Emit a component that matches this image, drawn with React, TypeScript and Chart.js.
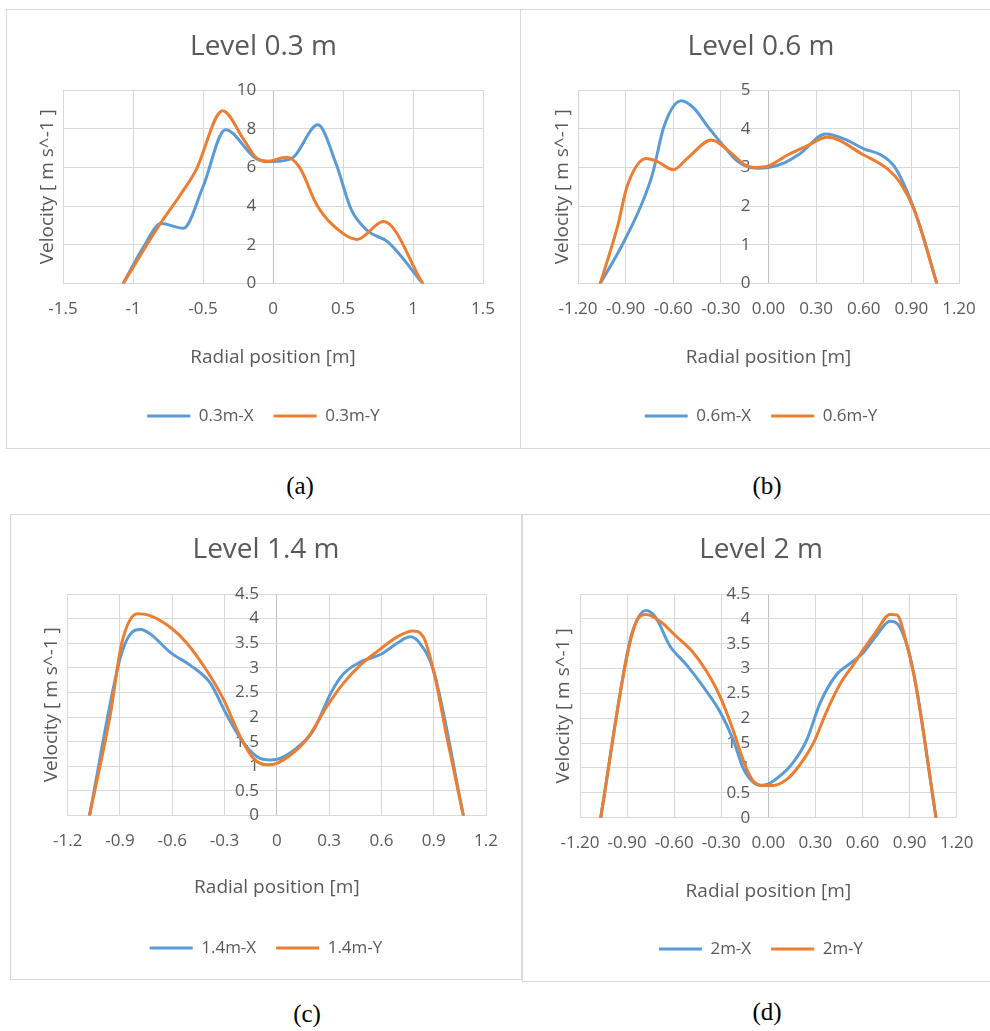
import React, { useEffect, useRef } from 'react';
import { Chart, registerables } from 'chart.js';

Chart.register(...registerables);

const FONT = "'Open Sans', 'Noto Sans', sans-serif";
const TEXT = '#595959';
const GRID = '#D9D9D9';
const AXIS0 = '#BFBFBF';
const BLUE = '#5B9BD5';
const ORANGE = '#ED7D31';

// ---------- Panel (a) Level 0.3 m ----------
const A_X_POS = [-1.07, -0.92, -0.8, -0.64, -0.5, -0.34, -0.12, 0, 0.14, 0.32, 0.45, 0.56, 0.68, 0.82, 1.07];
const A_X_VEL = [0, 1.95, 3.1, 2.85, 5.0, 7.95, 6.45, 6.3, 6.5, 8.2, 6.2, 3.8, 2.7, 2.15, 0];
const A_Y_POS = [-1.07, -0.8, -0.66, -0.55, -0.36, -0.21, -0.12, -0.05, 0.1, 0.19, 0.31, 0.43, 0.6, 0.79, 1.07];
const A_Y_VEL = [0, 3.15, 4.6, 5.86, 8.93, 7.45, 6.5, 6.3, 6.53, 6.0, 4.1, 3.0, 2.28, 3.2, 0];
const A_XTICKS = [-1.5, -1, -0.5, 0, 0.5, 1, 1.5];
const A_XLABELS = ['-1.5', '-1', '-0.5', '0', '0.5', '1', '1.5'];
const A_YTICKS = [0, 2, 4, 6, 8, 10];
const A_YLABELS = ['0', '2', '4', '6', '8', '10'];

// ---------- Panel (b) Level 0.6 m ----------
const B_X_POS = [-1.06, -0.93, -0.8, -0.73, -0.66, -0.55, -0.47, -0.38, -0.3, -0.195, -0.07, 0, 0.1, 0.2, 0.36, 0.48, 0.6, 0.71, 0.79, 0.875, 0.96, 1.06];
const B_X_VEL = [0, 0.93, 2.04, 2.84, 4.04, 4.72, 4.53, 4.04, 3.64, 3.16, 2.98, 3.0, 3.12, 3.36, 3.86, 3.73, 3.48, 3.32, 3.04, 2.36, 1.4, 0];
const B_Y_POS = [-1.06, -0.95, -0.89, -0.77, -0.7, -0.6, -0.51, -0.36, -0.26, -0.15, -0.09, 0, 0.12, 0.245, 0.37, 0.6, 0.75, 0.83, 0.92, 1.06];
const B_Y_VEL = [0, 1.49, 2.52, 3.23, 3.15, 2.94, 3.24, 3.71, 3.46, 3.07, 3.0, 3.04, 3.32, 3.56, 3.78, 3.32, 2.96, 2.6, 1.88, 0];
const B_XTICKS = [-1.2, -0.9, -0.6, -0.3, 0, 0.3, 0.6, 0.9, 1.2];
const B_XLABELS = ['-1.20', '-0.90', '-0.60', '-0.30', '0.00', '0.30', '0.60', '0.90', '1.20'];
const B_YTICKS = [0, 1, 2, 3, 4, 5];
const B_YLABELS = ['0', '1', '2', '3', '4', '5'];

// ---------- Panel (c) Level 1.4 m ----------
const C_X_POS = [-1.075, -0.9, -0.84, -0.78, -0.727, -0.61, -0.5, -0.38, -0.287, -0.19, -0.096, -0.038, 0, 0.096, 0.21, 0.31, 0.38, 0.48, 0.6, 0.69, 0.765, 0.82, 0.9, 1.07];
const C_X_VEL = [0, 3.18, 3.69, 3.78, 3.69, 3.31, 3.06, 2.68, 2.04, 1.47, 1.16, 1.13, 1.14, 1.32, 1.73, 2.49, 2.87, 3.12, 3.28, 3.5, 3.63, 3.5, 2.93, 0];
const C_Y_POS = [-1.075, -0.956, -0.89, -0.8, -0.736, -0.61, -0.516, -0.4, -0.306, -0.21, -0.134, -0.057, 0, 0.096, 0.17, 0.29, 0.38, 0.48, 0.59, 0.69, 0.78, 0.84, 0.9, 0.975, 1.07];
const C_Y_VEL = [0, 2.04, 3.5, 4.1, 4.07, 3.82, 3.5, 2.93, 2.36, 1.6, 1.16, 1.03, 1.06, 1.28, 1.54, 2.23, 2.68, 3.06, 3.37, 3.63, 3.75, 3.63, 2.93, 1.6, 0];
const C_XTICKS = [-1.2, -0.9, -0.6, -0.3, 0, 0.3, 0.6, 0.9, 1.2];
const C_XLABELS = ['-1.2', '-0.9', '-0.6', '-0.3', '0', '0.3', '0.6', '0.9', '1.2'];
const C_YTICKS = [0, 0.5, 1, 1.5, 2, 2.5, 3, 3.5, 4, 4.5];
const C_YLABELS = ['0', '0.5', '1', '1.5', '2', '2.5', '3', '3.5', '4', '4.5'];

// ---------- Panel (d) Level 2 m ----------
const D_X_POS = [-1.068, -0.924, -0.87, -0.78, -0.72, -0.626, -0.52, -0.414, -0.308, -0.223, -0.16, -0.096, -0.053, 0, 0.074, 0.16, 0.244, 0.33, 0.435, 0.52, 0.605, 0.69, 0.775, 0.84, 0.924, 1.068];
const D_X_VEL = [0, 2.88, 3.7, 4.17, 4.04, 3.45, 3.07, 2.63, 2.13, 1.56, 0.99, 0.71, 0.65, 0.68, 0.84, 1.12, 1.56, 2.31, 2.88, 3.1, 3.32, 3.67, 3.95, 3.82, 2.94, 0];
const D_Y_POS = [-1.068, -0.9, -0.83, -0.78, -0.69, -0.584, -0.478, -0.393, -0.308, -0.223, -0.149, -0.096, -0.032, 0.032, 0.117, 0.2, 0.287, 0.37, 0.457, 0.54, 0.605, 0.69, 0.775, 0.818, 0.88, 0.945, 1.068];
const D_Y_VEL = [0, 3.26, 4.01, 4.09, 3.95, 3.64, 3.32, 2.94, 2.44, 1.75, 1.06, 0.74, 0.65, 0.65, 0.77, 1.06, 1.5, 2.13, 2.69, 3.07, 3.38, 3.76, 4.09, 4.08, 3.51, 2.57, 0];
const D_XTICKS = B_XTICKS;
const D_XLABELS = B_XLABELS;
const D_YTICKS = C_YTICKS;
const D_YLABELS = C_YLABELS;

type Spec = {
  title: string;
  names: [string, string];
  xPos: number[]; xVel: number[]; yPos: number[]; yVel: number[];
  xTicks: number[]; xLabels: string[]; yTicks: number[]; yLabels: string[];
  box: { left: number; top: number; width: number; height: number };
  lay: { L: number; R: number; Tt: number; Tb: number; P: number; Xt: number; Xb: number; B: number; Yt: number; yOff: number };
};

const SPECS: Spec[] = [
  {
    title: 'Level 0.3 m', names: ['0.3m-X', '0.3m-Y'],
    xPos: A_X_POS, xVel: A_X_VEL, yPos: A_Y_POS, yVel: A_Y_VEL,
    xTicks: A_XTICKS, xLabels: A_XLABELS, yTicks: A_YTICKS, yLabels: A_YLABELS,
    box: { left: 6, top: 9, width: 515, height: 440 },
    lay: { L: 56, R: 37, Tt: 20.2, Tb: 26.2, P: 15.5, Xt: 11.7, Xb: 18.1, B: 13.5, Yt: 29.6, yOff: 0.12 },
  },
  {
    title: 'Level 0.6 m', names: ['0.6m-X', '0.6m-Y'],
    xPos: B_X_POS, xVel: B_X_VEL, yPos: B_Y_POS, yVel: B_Y_VEL,
    xTicks: B_XTICKS, xLabels: B_XLABELS, yTicks: B_YTICKS, yLabels: B_YLABELS,
    box: { left: 520, top: 9, width: 482, height: 440 },
    lay: { L: 57, R: 42, Tt: 20.2, Tb: 26.2, P: 15.5, Xt: 11.7, Xb: 18.1, B: 13.5, Yt: 30.6, yOff: 0.113 },
  },
  {
    title: 'Level 1.4 m', names: ['1.4m-X', '1.4m-Y'],
    xPos: C_X_POS, xVel: C_X_VEL, yPos: C_Y_POS, yVel: C_Y_VEL,
    xTicks: C_XTICKS, xLabels: C_XLABELS, yTicks: C_YTICKS, yLabels: C_YLABELS,
    box: { left: 10, top: 514, width: 512, height: 466 },
    lay: { L: 56.7, R: 35, Tt: 18.2, Tb: 27.2, P: 15.5, Xt: 9.7, Xb: 20.1, B: 12.5, Yt: 29.3, yOff: 0.103 },
  },
  {
    title: 'Level 2 m', names: ['2m-X', '2m-Y'],
    xPos: D_X_POS, xVel: D_X_VEL, yPos: D_Y_POS, yVel: D_Y_VEL,
    xTicks: D_XTICKS, xLabels: D_XLABELS, yTicks: D_YTICKS, yLabels: D_YLABELS,
    box: { left: 522, top: 514, width: 478, height: 468 },
    lay: { L: 57, R: 42.3, Tt: 18.2, Tb: 27.2, P: 15, Xt: 12.2, Xb: 17.4, B: 13.5, Yt: 28.9, yOff: 0.115 },
  },
];

const CAPTIONS = [
  { text: '(a)', cx: 300, cy: 486 },
  { text: '(b)', cx: 767, cy: 486 },
  { text: '(c)', cx: 307, cy: 1014 },
  { text: '(d)', cx: 767, cy: 1012 },
];

const toXY = (pos: number[], vel: number[]) => pos.map((p, i) => ({ x: p, y: vel[i] }));

function makeConfig(s: Spec): any {
  const l = s.lay;
  const lineDs = (label: string, data: any[], color: string, order: number) => ({
    label, data, borderColor: color, backgroundColor: color, borderWidth: 3,
    pointRadius: 0, pointHoverRadius: 0, cubicInterpolationMode: 'monotone',
    borderCapStyle: 'round', borderJoinStyle: 'round', fill: false, order,
  });
  return {
    type: 'line',
    data: {
      datasets: [
        lineDs(s.names[0], toXY(s.xPos, s.xVel), BLUE, 1),
        lineDs(s.names[1], toXY(s.yPos, s.yVel), ORANGE, 0),
      ],
    },
    options: {
      responsive: false,
      animation: false,
      devicePixelRatio: 1,
      events: [],
      layout: { padding: { top: 0, left: 0, right: 0, bottom: l.B } },
      plugins: {
        tooltip: { enabled: false },
        title: {
          display: true, text: s.title, color: TEXT,
          font: { family: FONT, size: 28, weight: 'normal' },
          padding: { top: l.Tt, bottom: l.Tb },
        },
        legend: {
          display: true, position: 'bottom',
          labels: {
            color: TEXT, font: { family: FONT, size: 17 }, boxWidth: 43, boxHeight: 3, padding: 20,
            generateLabels: (chart: any) => chart.data.datasets.map((ds: any, i: number) => ({
              text: ds.label, fillStyle: ds.borderColor, strokeStyle: ds.borderColor,
              lineWidth: 0, hidden: false, datasetIndex: i, fontColor: TEXT,
            })),
          },
        },
      },
      scales: {
        x: {
          type: 'linear', position: 'bottom',
          min: s.xTicks[0], max: s.xTicks[s.xTicks.length - 1],
          afterBuildTicks: (sc: any) => { sc.ticks = s.xTicks.map((v) => ({ value: v })); },
          ticks: {
            autoSkip: false, maxRotation: 0, minRotation: 0, padding: l.P, color: TEXT,
            font: { family: FONT, size: 17 },
            callback: (_v: any, i: number) => s.xLabels[i],
          },
          grid: {
            drawTicks: false, lineWidth: 1,
            color: (ctx: any) => (ctx.tick && ctx.tick.value === 0 ? AXIS0 : GRID),
          },
          border: { display: true, color: GRID },
          title: {
            display: true, text: 'Radial position [m]', color: TEXT,
            font: { family: FONT, size: 19 }, padding: { top: l.Xt, bottom: l.Xb },
          },
        },
        y: {
          type: 'linear', position: { x: -l.yOff },
          min: s.yTicks[0], max: s.yTicks[s.yTicks.length - 1],
          afterBuildTicks: (sc: any) => { sc.ticks = s.yTicks.map((v) => ({ value: v })); },
          ticks: {
            padding: 0, color: TEXT, font: { family: FONT, size: 17 },
            callback: (_v: any, i: number) => s.yLabels[i],
          },
          grid: { drawTicks: false, color: GRID, lineWidth: 1 },
          border: { display: false },
        },
        yT: {
          type: 'linear', position: 'left', min: 0, max: 1,
          ticks: { display: false }, grid: { display: false, drawTicks: false }, border: { display: false },
          title: {
            display: true, text: 'Velocity [ m s^-1 ]', color: TEXT,
            font: { family: FONT, size: 19 }, padding: { top: l.Yt, bottom: 0 },
          },
          afterFit: (sc: any) => { sc.width = l.L; },
        },
        yR: {
          type: 'linear', position: 'right', min: 0, max: 1,
          ticks: { display: false }, grid: { display: false, drawTicks: false }, border: { display: false },
          afterFit: (sc: any) => { sc.width = l.R; },
        },
      },
    },
  };
}

function Panel({ spec }: { spec: Spec }) {
  const ref = useRef<HTMLCanvasElement | null>(null);
  useEffect(() => {
    if (!ref.current) return;
    const chart = new Chart(ref.current, makeConfig(spec));
    return () => chart.destroy();
  }, [spec]);
  const b = spec.box;
  return (
    <div
      style={{
        position: 'absolute', left: b.left, top: b.top, width: b.width, height: b.height,
        border: '1px solid #D9D9D9', boxSizing: 'border-box', background: '#fff',
      }}
    >
      <canvas
        ref={ref}
        width={b.width - 2}
        height={b.height - 2}
        style={{ display: 'block', width: b.width - 2, height: b.height - 2 }}
      />
    </div>
  );
}

export default function App() {
  return (
    <div
      style={{
        position: 'absolute', left: 0, top: 0, width: 990, height: 1031,
        overflow: 'hidden', background: '#fff',
      }}
    >
      {SPECS.map((s) => (
        <Panel key={s.title} spec={s} />
      ))}
      {CAPTIONS.map((c) => (
        <div
          key={c.text}
          style={{
            position: 'absolute', left: c.cx - 40, top: c.cy - 13, width: 80, textAlign: 'center',
            fontFamily: "'Liberation Serif', 'Times New Roman', serif", fontSize: 25, lineHeight: '26px',
            color: '#000',
          }}
        >
          {c.text}
        </div>
      ))}
    </div>
  );
}
